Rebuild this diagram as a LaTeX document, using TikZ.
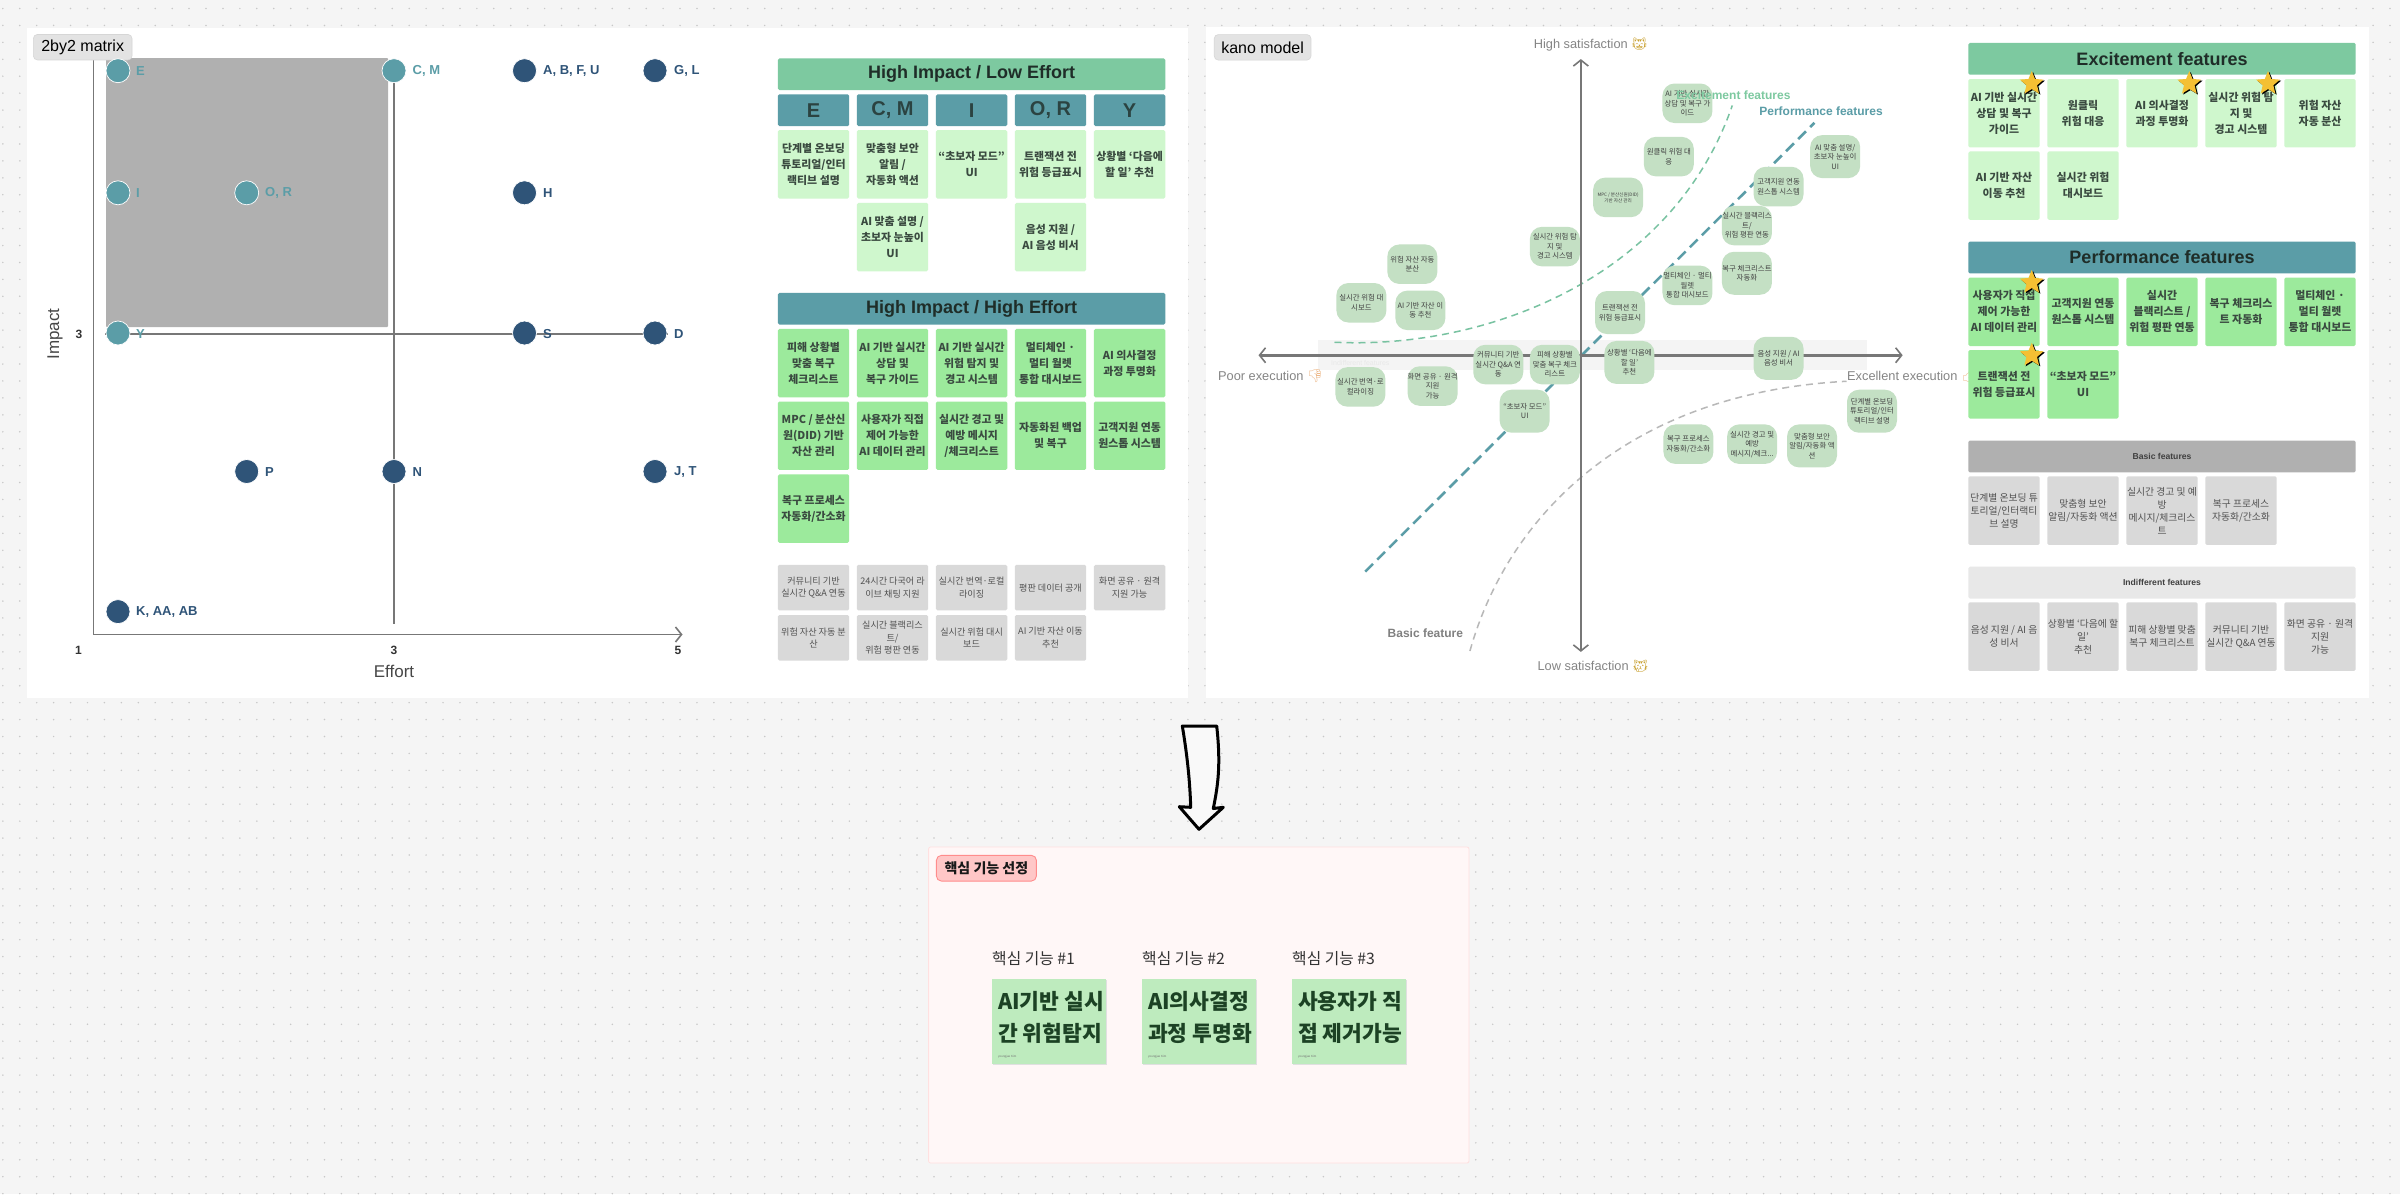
\documentclass[tikz,border=0pt]{standalone}
\usepackage{fontspec}
\usetikzlibrary{arrows.meta,shapes.geometric}
\setmainfont{Noto Sans CJK KR}
\newfontfamily\latinf{Liberation Sans}
\newfontfamily\emj{Noto Emoji}
\newcommand\fz[2]{\fontsize{#1}{#2}\selectfont}
\newcommand\cell[5]{\node[#1] (#2) at (#3,#4) {#5};}
\definecolor{bgc}{HTML}{F5F5F5}
\definecolor{dotc}{HTML}{C8C8C8}
\definecolor{gh}{HTML}{7DC9A0}
\definecolor{th}{HTML}{5B9DA7}
\definecolor{navy}{HTML}{2F5478}
\definecolor{lgr}{HTML}{CFF7CD}
\definecolor{mgr}{HTML}{9CEA9C}
\definecolor{gc}{HTML}{D9D9D9}
\definecolor{dk}{HTML}{1F2D28}
\definecolor{cgt}{HTML}{3A4A40}
\definecolor{axc}{HTML}{777777}
\definecolor{stk}{HTML}{C4E0C4}
\definecolor{nc}{HTML}{BEEBBE}
\definecolor{stc}{HTML}{F4C033}
\definecolor{emc}{HTML}{C9A02E}
\definecolor{thc}{HTML}{EDB98A}
\tikzset{
 boxb/.style={rectangle,rounded corners=1.5pt,inner sep=0pt,align=center},
 hdr/.style={boxb,minimum width=387.3pt,minimum height=31.8pt,text=dk,font={\latinf\fz{18}{20}\bfseries}},
 subh/.style={boxb,fill=th,minimum width=71.3pt,minimum height=31.8pt,text=dk!80!th,font={\latinf\fz{20}{22}\bfseries}},
 clight/.style={boxb,fill=lgr,minimum width=71.3pt,minimum height=68.4pt,text=cgt,font={\fz{10.9}{16}\bfseries}},
 cmid/.style={boxb,fill=mgr,minimum width=71.3pt,minimum height=68.4pt,text=cgt,font={\fz{10.9}{16}\bfseries}},
 cgray/.style={boxb,fill=gc,minimum width=71.3pt,minimum height=45.6pt,text=black!68,font={\fz{9.1}{12.6}}},
 cgr/.style={boxb,fill=gc,minimum width=71.3pt,minimum height=68.6pt,text=black!68,font={\fz{9.8}{13}}},
 cgh/.style={boxb,minimum width=387.3pt,minimum height=31.8pt,text=black!75,font={\latinf\fz{8.6}{10}\bfseries}},
 tagbox/.style={rectangle,rounded corners=4pt,fill=black!11,draw=black!16,line width=.6pt,minimum height=25.5pt,inner sep=0pt,text=black,font={\latinf\fz{16}{18}}},
 dotp/.style={circle,minimum size=24pt,inner sep=0pt,draw=white,line width=.7pt},
 dteal/.style={dotp,fill=th},
 dnavy/.style={dotp,fill=navy},
 ltx/.style={anchor=west,inner sep=0pt,font={\latinf\fz{13}{14}\bfseries}},
 ltt/.style={ltx,text=th},
 ltn/.style={ltx,text=navy},
 tickn/.style={inner sep=0pt,text=black!80,font={\latinf\fz{12}{14}\bfseries}},
 axl/.style={inner sep=0pt,text=black!72,font={\latinf\fz{17}{19}}},
 maxis/.style={draw=axc,line width=1.3pt},
 kaxis/.style={draw=axc,line width=2.6pt},
 barb/.tip={Straight Barb[length=6pt,width=15pt,line width=1.6pt]},
 stky/.style={rectangle,rounded corners=12pt,fill=stk,minimum width=50pt,minimum height=39.5pt,inner sep=0pt,align=center,text=black!75,font={\fz{7.4}{9.5}}},
 kal/.style={inner sep=0pt,text=black!48,font={\latinf\fz{12.8}{15}}},
 curl/.style={inner sep=0pt,font={\latinf\fz{12}{14}\bfseries}},
 starb/.style={star,star points=5,star point ratio=2.25,minimum size=25pt,inner sep=0pt,fill=black},
 stary/.style={star,star points=5,star point ratio=2.25,minimum size=25pt,inner sep=0pt,fill=stc},
 notebox/.style={rectangle,fill=nc,minimum width=114.4pt,minimum height=85.6pt,inner sep=0pt,draw=none},
 notet/.style={anchor=west,inner sep=0pt,text=dk!90!green,font={\fz{21.5}{32}\bfseries},align=left},
 notel/.style={anchor=west,inner sep=0pt,text=black!80,font={\fz{15.8}{19}}},
 tinyt/.style={anchor=west,inner sep=0pt,text=black!55,font={\latinf\fz{3}{4}}},
}
\begin{document}
\begin{tikzpicture}[x=1pt,y=-1pt]
\useasboundingbox (0,0) rectangle (2400,1194);
\fill[bgc] (0,0) rectangle (2400,1194);
% dotted canvas
\foreach \i in {0,...,141} \draw[dotc,line width=1.7pt,line cap=round,dash pattern=on 0pt off 16.93pt] ({2.85+16.93*\i},8.5) -- ++(0,1190);
% panels
\fill[white] (27,27.5) rectangle (1188,698);
\fill[white] (1206,26.5) rectangle (2369,698);
\filldraw[fill=red!3!white,draw=red!12!white,line width=.8pt,rounded corners=2pt] (928.6,847) rectangle (1469,1163);

% ===== 2by2 =====
\fill[black!31,rounded corners=1pt] (106,58) rectangle (388,327);
\coordinate (ltop) at (93.5,50);
\coordinate (lcor) at (93.5,634.5);
\coordinate (lend) at (682.5,634.5);
\coordinate (vtop) at (394,71);
\coordinate (vbot) at (394,623.5);
\coordinate (hl) at (105,334);
\coordinate (hr) at (668,334);
\draw[maxis,-{barb}] (ltop) -- (lcor) -- (lend);
\draw[maxis] (vtop) -- (vbot);
\draw[maxis] (hl) -- (hr);
\node[tagbox,minimum width=98.6pt] (tag1) at (82.7,47.2) {2by2 matrix};
\node[dteal] (pE) at (118,70.7) {};       \node[ltt] (lE) at (136,71) {E};
\node[dteal] (pCM) at (394,70.7) {};      \node[ltt] (lCM) at (412.5,71) {C, M};
\node[dnavy] (pA) at (524.5,70.7) {};     \node[ltn] (lA) at (543,71) {A, B, F, U};
\node[dnavy] (pG) at (655,70.7) {};       \node[ltn] (lG) at (674,71) {G, L};
\node[dteal] (pI) at (118,192.8) {};      \node[ltt] (lI) at (136,193.3) {I};
\node[dteal] (pO) at (246.7,192.8) {};    \node[ltt] (lO) at (265,193.3) {O, R};
\node[dnavy] (pH) at (524.5,192.8) {};    \node[ltn] (lH) at (543,193.3) {H};
\node[dteal] (pY) at (118,333) {};        \node[ltt] (lY) at (136,334) {Y};
\node[dnavy] (pS) at (524.5,333) {};      \node[ltn] (lS) at (543,334) {S};
\node[dnavy] (pD) at (655,333) {};        \node[ltn] (lD) at (674,334) {D};
\node[dnavy] (pP) at (246.7,471.5) {};    \node[ltn] (lP) at (265,472) {P};
\node[dnavy] (pN) at (394,471.5) {};      \node[ltn] (lN) at (412.5,472) {N};
\node[dnavy] (pJ) at (655,471.5) {};      \node[ltn] (lJ) at (674,472) {J, T};
\node[dnavy] (pK) at (118,611.6) {};      \node[ltn] (lK) at (136,612.3) {K, AA, AB};
\node[tickn] (t1) at (78.5,650.6) {1};
\node[tickn] (t3) at (394,650.6) {3};
\node[tickn] (t5) at (678,650.6) {5};
\node[tickn] (t3y) at (79,334) {3};
\node[axl] (effort) at (394,671.5) {Effort};
\node[axl,rotate=90] (impact) at (55,334) {Impact};

% ===== left tables =====
\cell{hdr,fill=gh}{h1}{971.6}{74.3}{High Impact / Low Effort}
\cell{subh}{sE}{813.5}{110.2}{E}
\cell{subh}{sC}{892.5}{110.2}{C, M}
\cell{subh}{sI}{971.6}{110.2}{I}
\cell{subh}{sO}{1050.5}{110.2}{O, R}
\cell{subh}{sY}{1129.6}{110.2}{Y}
\cell{clight}{a1}{813.5}{164.3}{단계별 온보딩\\튜토리얼/인터\\랙티브 설명}
\cell{clight}{a2}{892.5}{164.3}{맞춤형 보안\\알림 /\\자동화 액션}
\cell{clight}{a3}{971.6}{164.3}{“초보자 모드”\\UI}
\cell{clight}{a4}{1050.5}{164.3}{트랜잭션 전\\위험 등급표시}
\cell{clight}{a5}{1129.6}{164.3}{상황별 ‘다음에\\할 일’ 추천}
\cell{clight}{a6}{892.5}{237.1}{AI 맞춤 설명 /\\초보자 눈높이\\UI}
\cell{clight}{a7}{1050.5}{237.1}{음성 지원 /\\AI 음성 비서}
\cell{hdr,fill=th}{h2}{971.6}{308.8}{High Impact / High Effort}
\cell{cmid}{b1}{813.5}{363.1}{피해 상황별\\맞춤 복구\\체크리스트}
\cell{cmid}{b2}{892.5}{363.1}{AI 기반 실시간\\상담 및\\복구 가이드}
\cell{cmid}{b3}{971.6}{363.1}{AI 기반 실시간\\위험 탐지 및\\경고 시스템}
\cell{cmid}{b4}{1050.5}{363.1}{멀티체인 ·\\멀티 월렛\\통합 대시보드}
\cell{cmid}{b5}{1129.6}{363.1}{AI 의사결정\\과정 투명화}
\cell{cmid}{b6}{813.5}{435.7}{MPC / 분산신\\원(DID) 기반\\자산 관리}
\cell{cmid}{b7}{892.5}{435.7}{사용자가 직접\\제어 가능한\\AI 데이터 관리}
\cell{cmid}{b8}{971.6}{435.7}{실시간 경고 및\\예방 메시지\\/체크리스트}
\cell{cmid}{b9}{1050.5}{435.7}{자동화된 백업\\및 복구}
\cell{cmid}{b10}{1129.6}{435.7}{고객지원 연동\\원스톱 시스템}
\cell{cmid}{b11}{813.5}{508.6}{복구 프로세스\\자동화/간소화}
\cell{cgray}{g1}{813.5}{587.6}{커뮤니티 기반\\실시간 Q\&A 연동}
\cell{cgray}{g2}{892.5}{587.6}{24시간 다국어 라\\이브 채팅 지원}
\cell{cgray}{g3}{971.6}{587.6}{실시간 번역·로컬\\라이징}
\cell{cgray}{g4}{1050.5}{587.6}{평판 데이터 공개}
\cell{cgray}{g5}{1129.6}{587.6}{화면 공유 · 원격\\지원 가능}
\cell{cgray}{g6}{813.5}{637.8}{위험 자산 자동 분\\산}
\cell{cgray}{g7}{892.5}{637.8}{실시간 블랙리스\\트/\\위험 평판 연동}
\cell{cgray}{g8}{971.6}{637.8}{실시간 위험 대시\\보드}
\cell{cgray}{g9}{1050.5}{637.8}{AI 기반 자산 이동\\추천}

% ===== kano =====
\fill[black!4.5] (1318,339.6) rectangle (1867,370.4);
\node[anchor=west,inner sep=0pt,text=black!9,font={\latinf\fz{7}{8}}] (ind) at (1331,362.6) {Indifferent features};
\begin{scope}[shift={(1200pt,-20pt)},x=0.4719pt,y=-0.4337pt]
 \coordinate (ex0) at (285,743);
 \coordinate (ex1) at (1128,197);
 \coordinate (pf0) at (350,1272);
 \coordinate (pf1) at (1302,237);
 \coordinate (bs0) at (572,1455);
 \coordinate (bs1) at (1370,833);
 \coordinate (axL) at (124,773);
 \coordinate (axR) at (1489,773);
 \coordinate (axT) at (807,90);
 \coordinate (axB) at (807,1457);
 \draw[gh!85!th,line width=1.5pt,dash pattern=on 7pt off 5pt] (ex0) .. controls (600,760) and (1000,600) .. (ex1);
 \draw[th,line width=2.6pt,dash pattern=on 11pt off 6pt] (pf0) -- (pf1);
 \draw[black!28,line width=1.5pt,dash pattern=on 7pt off 5pt] (bs0) .. controls (650,1150) and (900,860) .. (bs1);
 \draw[kaxis,{barb}-{barb}] (axL) -- (axR);
 \draw[kaxis,{barb}-{barb}] (axT) -- (axB);
 \cell{stky}{k1}{1033}{192}{AI 기반 실시간\\상담 및 복구 가\\이드}
 \cell{stky}{k2}{993.5}{315}{원클릭 위험 대\\응}
 \cell{stky,font={\fz{4.6}{6.2}}}{k3}{886}{409}{MPC / 분산신원(DID)\\기반 자산 관리}
 \cell{stky}{k4}{752}{522.5}{실시간 위험 탐\\지 및\\경고 시스템}
 \cell{stky}{k5}{450}{563}{위험 자산 자동\\분산}
 \cell{stky}{k6}{342}{652}{실시간 위험 대\\시보드}
 \cell{stky}{k7}{467}{669.5}{AI 기반 자산 이\\동 추천}
 \cell{stky,minimum height=43pt}{k8}{890}{674.5}{트랜잭션 전\\위험 등급표시}
 \cell{stky}{k9}{1033}{612}{멀티체인 · 멀티\\월렛\\통합 대시보드}
 \cell{stky,minimum height=43pt}{k10}{1159}{584}{복구 체크리스트\\자동화}
 \cell{stky}{k11}{1159}{474}{실시간 블랙리스\\트/\\위험 평판 연동}
 \cell{stky}{k12}{1226}{384}{고객지원 연동\\원스톱 시스템}
 \cell{stky,minimum height=43pt}{k13}{1346}{315}{AI 맞춤 설명/\\초보자 눈높이\\UI}
 \cell{stky,minimum height=43pt}{k14}{910}{789.5}{상황별 ‘다음에\\할 일’\\추천}
 \cell{stky,minimum height=43pt}{k15}{1226}{780}{음성 지원 / AI\\음성 비서}
 \cell{stky}{k16}{632}{794.5}{커뮤니티 기반\\실시간 Q\&A 연\\동}
 \cell{stky}{k17}{752}{794.5}{피해 상황별\\맞춤 복구 체크\\리스트}
 \cell{stky}{k18}{340}{846}{실시간 번역·로\\컬라이징}
 \cell{stky}{k19}{493}{844}{화면 공유 · 원격\\지원\\가능}
 \cell{stky,minimum height=43pt}{k20}{688}{902}{“초보자 모드”\\UI}
 \cell{stky,minimum height=43pt}{k21}{1424}{902}{단계별 온보딩\\튜토리얼/인터\\랙티브 설명}
 \cell{stky}{k22}{1035}{978}{복구 프로세스\\자동화/간소화}
 \cell{stky}{k23}{1170}{978}{실시간 경고 및\\예방\\메시지/체크...}
 \cell{stky,minimum height=43pt}{k24}{1297}{982}{맞춤형 보안\\알림/자동화 액\\션}
 \node[curl,text=gh,anchor=center] (kex) at (1130.5,174) {Excitement features};
 \node[curl,text=th,anchor=center] (kpf) at (1316,211) {Performance features};
 \node[curl,text=black!50,anchor=center] (kbs) at (477.5,1414) {Basic feature};
 \node[kal,anchor=west] (khi) at (707,57) {High satisfaction {\emj\textcolor{emc}{😸}}};
 \node[kal,anchor=west] (klo) at (715,1489) {Low satisfaction {\emj\textcolor{emc}{😿}}};
 \node[kal,anchor=west] (kpo) at (38,821) {Poor execution {\emj\textcolor{thc}{👎}}};
 \node[kal,anchor=west] (kex2) at (1371,821) {Excellent execution {\emj\textcolor{thc}{👍}}};
\end{scope}
\node[tagbox,minimum width=96.7pt] (tag2) at (1262.6,47.3) {kano model};

% ===== right tables =====
\cell{hdr,fill=gh}{e0}{2162}{58.8}{Excitement features}
\cell{clight}{e1}{2004}{113.2}{AI 기반 실시간\\상담 및 복구\\가이드}
\cell{clight}{e2}{2083}{113.2}{원클릭\\위험 대응}
\cell{clight}{e3}{2162}{113.2}{AI 의사결정\\과정 투명화}
\cell{clight}{e4}{2241}{113.2}{실시간 위험 탐\\지 및\\경고 시스템}
\cell{clight}{e5}{2320}{113.2}{위험 자산\\자동 분산}
\cell{clight}{e6}{2004}{185.6}{AI 기반 자산\\이동 추천}
\cell{clight}{e7}{2083}{185.6}{실시간 위험\\대시보드}
\cell{hdr,fill=th}{p0}{2162}{257.5}{Performance features}
\cell{cmid}{p1}{2004}{311.8}{사용자가 직접\\제어 가능한\\AI 데이터 관리}
\cell{cmid}{p2}{2083}{311.8}{고객지원 연동\\원스톱 시스템}
\cell{cmid}{p3}{2162}{311.8}{실시간\\블랙리스트 /\\위험 평판 연동}
\cell{cmid}{p4}{2241}{311.8}{복구 체크리스\\트 자동화}
\cell{cmid}{p5}{2320}{311.8}{멀티체인 ·\\멀티 월렛\\통합 대시보드}
\cell{cmid}{p6}{2004}{384.3}{트랜잭션 전\\위험 등급표시}
\cell{cmid}{p7}{2083}{384.3}{“초보자 모드”\\UI}
\cell{cgh,fill=black!31}{bh}{2162}{456.5}{Basic features}
\cell{cgr}{r1}{2004}{510.6}{단계별 온보딩 튜\\토리얼/인터랙티\\브 설명}
\cell{cgr}{r2}{2083}{510.6}{맞춤형 보안\\알림/자동화 액션}
\cell{cgr}{r3}{2162}{510.6}{실시간 경고 및 예\\방\\메시지/체크리스\\트}
\cell{cgr}{r4}{2241}{510.6}{복구 프로세스\\자동화/간소화}
\cell{cgh,fill=black!9}{ih}{2162}{582.6}{Indifferent features}
\cell{cgr}{r5}{2004}{636.6}{음성 지원 / AI 음\\성 비서}
\cell{cgr}{r6}{2083}{636.6}{상황별 ‘다음에 할\\일’\\추천}
\cell{cgr}{r7}{2162}{636.6}{피해 상황별 맞춤\\복구 체크리스트}
\cell{cgr}{r8}{2241}{636.6}{커뮤니티 기반\\실시간 Q\&A 연동}
\cell{cgr}{r9}{2320}{636.6}{화면 공유 · 원격\\지원\\가능}
% stars
\node[starb] (s1b) at (2033,84.5) {};  \node[stary] (s1) at (2031.7,83.5) {};
\node[starb] (s2b) at (2190.6,84.5) {}; \node[stary] (s2) at (2189.3,83.5) {};
\node[starb] (s3b) at (2269.3,84.5) {}; \node[stary] (s3) at (2268,83.5) {};
\node[starb] (s4b) at (2033,283.5) {}; \node[stary] (s4) at (2031.7,282.5) {};
\node[starb] (s5b) at (2033,356.2) {}; \node[stary] (s5) at (2031.7,355.2) {};

% ===== arrow =====
\coordinate (a0) at (1182.3,726);
\coordinate (a1) at (1216.7,726);
\coordinate (a2) at (1213.3,808.5);
\coordinate (a3) at (1223.3,807.3);
\coordinate (a4) at (1199,829.3);
\coordinate (a5) at (1179.3,806.7);
\coordinate (a6) at (1190.7,807.3);
\filldraw[fill=bgc!60!white,draw=black,line width=3pt,line join=round]
 (a0) -- (a1) .. controls (1221,765) and (1218,785) .. (a2) -- (a3) -- (a4) -- (a5) -- (a6) .. controls (1190,785) and (1188,760) .. cycle;

% ===== core features =====
\node[rectangle,rounded corners=5pt,fill=red!22!white,draw=red!45!white,line width=.9pt,minimum width=100pt,minimum height=25.7pt,inner sep=0pt,text=black!90,font={\fz{14}{16}\bfseries}] (tag3) at (986.4,868.2) {핵심 기능 선정};
\node[notel] (c1l) at (992,959) {핵심 기능 \#1};
\node[notel] (c2l) at (1142,959) {핵심 기능 \#2};
\node[notel] (c3l) at (1292,959) {핵심 기능 \#3};
\fill[black!12] (992.6,979.8) rectangle (1107,1065.4);
\fill[black!12] (1142.6,979.8) rectangle (1257,1065.4);
\fill[black!12] (1292.6,979.8) rectangle (1407,1065.4);
\node[notebox] (c1) at (1049.2,1021.5) {};
\node[notebox] (c2) at (1199.2,1021.5) {};
\node[notebox] (c3) at (1349.2,1021.5) {};
\node[notet] (c1t) at (998,1017) {AI기반 실시\\간 위험탐지};
\node[notet] (c2t) at (1148,1017) {AI의사결정\\과정 투명화};
\node[notet] (c3t) at (1298,1017) {사용자가 직\\접 제거가능};
\node[tinyt] (c1a) at (998,1056.7) {youngjae Kim};
\node[tinyt] (c2a) at (1148,1056.7) {youngjae Kim};
\node[tinyt] (c3a) at (1298,1056.7) {youngjae Kim};
\end{tikzpicture}
\end{document}
